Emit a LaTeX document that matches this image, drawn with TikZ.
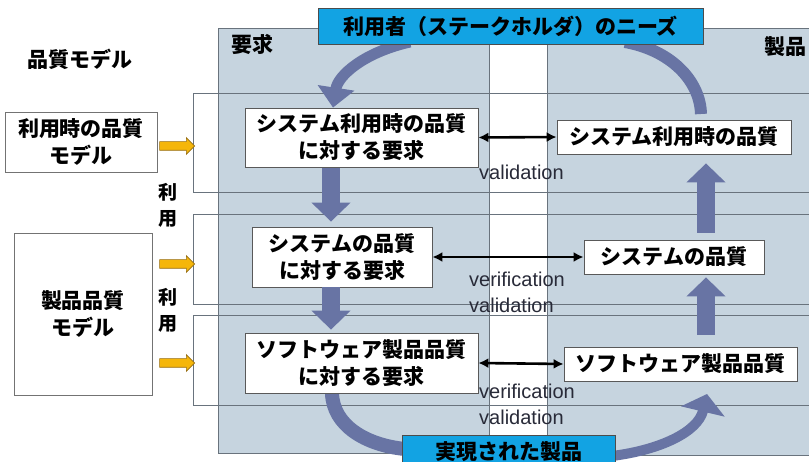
\documentclass[tikz,border=0pt]{standalone}
\usepackage{fontspec}
\newfontfamily\jp{Noto Sans CJK JP}
\newfontfamily\lat{Liberation Sans}
\usetikzlibrary{arrows.meta,shapes.arrows}
\definecolor{panel}{RGB}{198,212,223}
\definecolor{panelline}{RGB}{105,115,125}
\definecolor{bigarr}{RGB}{104,116,164}
\definecolor{needblue}{RGB}{18,163,227}
\definecolor{oarr}{RGB}{245,182,10}
\definecolor{oline}{RGB}{150,110,20}
\definecolor{txtgray}{RGB}{40,42,56}
\newcommand\jpfont{\jp\bfseries\fontsize{21}{27}\selectfont}
\newcommand\latfont{\lat\fontsize{20}{26}\selectfont}
\tikzset{
  wbox/.style={draw=black!65, line width=0.8pt, fill=white, inner sep=0pt, align=center, font=\jpfont},
  mbox/.style={draw=black!55, line width=0.8pt, fill=white, inner sep=0pt, align=center, font=\jpfont},
  bbox/.style={draw=black!70, line width=0.8pt, fill=needblue, inner sep=0pt, align=center, font=\jpfont},
  lbl/.style={inner sep=0pt, align=center, font=\jpfont},
  vlbl/.style={inner sep=0pt, align=left, font=\latfont, text=txtgray, anchor=west},
  rowline/.style={draw=panelline, line width=0.9pt},
  bigline/.style={draw=bigarr, line width=18pt},
  bigtip/.style={-{Triangle[width=38pt,length=19pt]}},
  curvline/.style={draw=bigarr, line width=11pt},
  dblarrow/.style={draw=black, line width=2.6pt, {Latex[length=10pt,width=10pt]}-{Latex[length=10pt,width=10pt]}},
  oarrow/.style={single arrow, draw=oline, fill=oarr, line width=0.6pt, inner sep=4pt, minimum height=35pt, single arrow head extend=4pt, single arrow head indent=0pt}
}
\begin{document}
\begin{tikzpicture}[x=1pt,y=-1pt]
\useasboundingbox (0,0) rectangle (809,462);
\fill[white] (0,0) rectangle (809,462);
% panels
\filldraw[fill=panel, draw=panelline, line width=0.9pt] (218,28) rectangle (489,453);
\filldraw[fill=panel, draw=panelline, line width=0.9pt] (547,28) rectangle (830,455);
% row frames
\draw[rowline] (193,93) rectangle (830,192);
\draw[rowline] (193,214) rectangle (830,304);
\draw[rowline] (193,315) rectangle (830,405);

% labels
\node[lbl] (lq) at (80,59) {品質モデル};
\node[lbl] (lreq) at (252,44) {要求};
\node[lbl] (lprod) at (785,47) {製品};
\node[lbl, font=\jp\bfseries\fontsize{19}{26}\selectfont] (ri1) at (168,205) {利\\用};
\node[lbl, font=\jp\bfseries\fontsize{19}{26}\selectfont] (ri2) at (168,310) {利\\用};

% model boxes
\node[mbox, minimum width=152pt, minimum height=60pt] (m1) at (81,142) {利用時の品質\\モデル};
\node[mbox, minimum width=138pt, minimum height=162pt] (m2) at (83,314) {製品品質\\モデル};

% orange arrows
\node[oarrow] (oa1) at (175,146) {};
\node[oarrow] (oa2) at (175,264) {};
\node[oarrow] (oa3) at (175,363) {};

\coordinate (c1) at (361.5,137.5);
\coordinate (c2) at (342,257);
\coordinate (c3) at (361.5,363);
\coordinate (needsL) at (410,42);
\coordinate (needsR) at (625,42);
\coordinate (builtL) at (405,449);
\coordinate (builtR) at (612,456);

\node[wbox, minimum width=233pt, minimum height=59pt] (r1) at (c1) {システム利用時の品質\\に対する要求};
\node[wbox, minimum width=180pt, minimum height=60pt] (r2) at (c2) {システムの品質\\に対する要求};
\node[wbox, minimum width=233pt, minimum height=60pt] (r3) at (c3) {ソフトウェア製品品質\\に対する要求};
\node[wbox, minimum width=234pt, minimum height=34pt] (p1) at (674,137) {システム利用時の品質};
\node[wbox, minimum width=180pt, minimum height=34pt] (p2) at (674,257) {システムの品質};
\node[wbox, minimum width=233pt, minimum height=34pt] (p3) at (680.5,364) {ソフトウェア製品品質};

% curved arrows
\draw[curvline, -{Triangle[width=36pt,length=20pt]}] (needsL) .. controls (365,52) and (338,75) .. (333,0 |- r1.north);
\draw[curvline, line width=12pt] (needsR) .. controls (670,50) and (700,80) .. (701,114);
\draw[curvline, line width=14pt] (332,0 |- r3.south) .. controls (333,425) and (365,445) .. (builtL);
\draw[curvline, line width=10pt, -{Triangle[width=44pt,length=18pt]}] (builtR) .. controls (660,450) and (698,432) .. (707,394);

% straight big arrows
\draw[bigline, bigtip, shorten >=5pt] (331,0 |- r1.south) -- (331,0 |- r2.north);
\draw[bigline, bigtip, shorten >=3pt] (331,0 |- r2.south) -- (331,0 |- r3.north);
\draw[bigline, bigtip, shorten <=7pt, shorten >=9pt] (706,0 |- p2.north) -- (706,0 |- p1.south);
\draw[bigline, bigtip, shorten <=12pt, shorten >=3pt] (706,0 |- p3.north) -- (706,0 |- p2.south);

% redraw boxes over arrow ends
\node[wbox, minimum width=233pt, minimum height=59pt] at (c1) {システム利用時の品質\\に対する要求};
\node[wbox, minimum width=233pt, minimum height=60pt] at (c3) {ソフトウェア製品品質\\に対する要求};
\node[wbox, minimum width=234pt, minimum height=34pt] at (674,137) {システム利用時の品質};

% double arrows
\draw[dblarrow] (r1.east) -- (p1.west);
\draw[dblarrow] (r2.east) -- (p2.west);
\draw[dblarrow] (r3.east) -- (p3.west);

% v&v labels
\node[vlbl] (v1) at (479,172) {validation};
\node[vlbl] (v2) at (469,292) {verification\\validation};
\node[vlbl] (v3) at (479,404.5) {verification\\validation};

% blue boxes
\node[bbox, minimum width=385pt, minimum height=36pt] (needs) at (510.5,26) {利用者（ステークホルダ）のニーズ};
\node[bbox, minimum width=213pt, minimum height=34pt] (built) at (508.5,452) {実現された製品};
\end{tikzpicture}
\end{document}
